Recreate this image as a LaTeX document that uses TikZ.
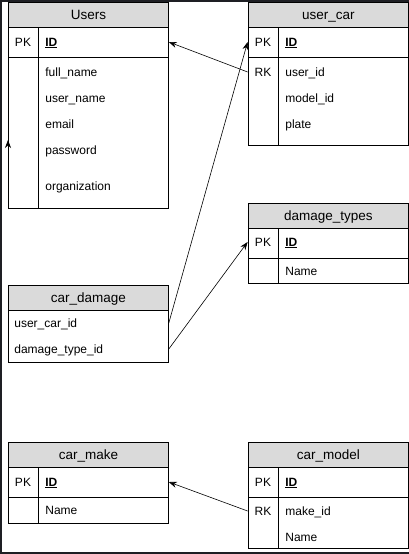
\documentclass[tikz,border=0pt]{standalone}
\usepackage{fontspec}
\setmainfont{Liberation Sans}
\usepackage{xcolor}
\usepackage{tikz}
\usetikzlibrary{arrows.meta}
\definecolor{headgray}{RGB}{218,218,218}
\definecolor{framedark}{RGB}{30,31,36}
\tikzset{
 head/.style={draw,fill=headgray,anchor=north west,minimum width=160pt,minimum height=25pt,inner sep=0pt,text height=11.5pt,text depth=2pt,font=\fontsize{13.5}{15}\selectfont},
 rowbox/.style={draw,anchor=north west,minimum width=160pt,inner sep=0pt},
 keycell/.style={minimum width=30pt,minimum height=26pt,inner sep=0pt,text height=10pt,text depth=2pt,font=\fontsize{12}{14}\selectfont},
 fieldcell/.style={anchor=west,minimum height=26pt,inner ysep=0pt,inner xsep=7pt,text width=116pt,align=left,text height=10pt,text depth=2pt,font=\fontsize{12}{14}\selectfont},
 widecell/.style={fieldcell,inner xsep=6pt,text width=148pt}
}
\begin{document}
\begin{tikzpicture}[x=1pt,y=-1pt,>={Stealth[length=8pt,width=6pt]},line width=0.8pt]
\useasboundingbox (0,0) rectangle (409,554);
\fill[framedark] (0,0) rectangle (409,554);
\fill[white] (2,1.5) rectangle (409,551.5);
% Users
\node[head] (users) at (8,2) {Users};
\node[rowbox,minimum height=30pt] (users-pkrow) at (8,27) {};
\node[rowbox,minimum height=151pt] (users-body) at (8,57) {};
\draw ([xshift=30pt]users-pkrow.north west) -- ([xshift=30pt]users-body.south west);
\node[keycell] (users-pk) at (23,42) {PK};
\node[fieldcell] (users-id) at (38,42) {\underline{\textbf{ID}}};
\node[fieldcell] (users-fname) at (38,72) {full\_name};
\node[fieldcell] (users-uname) at (38,98) {user\_name};
\node[fieldcell] (users-email) at (38,124) {email};
\node[fieldcell] (users-pass) at (38,150) {password};
\node[fieldcell] (users-org) at (38,186) {organization};
\coordinate (users-tip) at (8,140);
% user_car
\node[head] (ucar) at (248,2) {user\_car};
\node[rowbox,minimum height=30pt] (ucar-pkrow) at (248,27) {};
\node[rowbox,minimum height=88pt] (ucar-body) at (248,57) {};
\draw ([xshift=30pt]ucar-pkrow.north west) -- ([xshift=30pt]ucar-body.south west);
\node[keycell] (ucar-pk) at (263,42) {PK};
\node[fieldcell] (ucar-id) at (278,42) {\underline{\textbf{ID}}};
\node[keycell] (ucar-rk) at (263,72) {RK};
\node[fieldcell] (ucar-uid) at (278,72) {user\_id};
\node[fieldcell] (ucar-mid) at (278,98) {model\_id};
\node[fieldcell] (ucar-plate) at (278,124) {plate};
% damage_types
\node[head] (dtyp) at (248,203) {damage\_types};
\node[rowbox,minimum height=30pt] (dtyp-pkrow) at (248,228) {};
\node[rowbox,minimum height=25pt] (dtyp-body) at (248,258) {};
\draw ([xshift=30pt]dtyp-pkrow.north west) -- ([xshift=30pt]dtyp-body.south west);
\node[keycell] (dtyp-pk) at (263,242) {PK};
\node[fieldcell] (dtyp-id) at (278,242) {\underline{\textbf{ID}}};
\node[fieldcell] (dtyp-name) at (278,271) {Name};
% car_damage
\node[head] (cdmg) at (8,285) {car\_damage};
\node[rowbox,minimum height=52pt] (cdmg-body) at (8,310) {};
\node[widecell] (cdmg-ucid) at (8,323) {user\_car\_id};
\node[widecell] (cdmg-dtid) at (8,349) {damage\_type\_id};
% car_make
\node[head] (cmake) at (8,442) {car\_make};
\node[rowbox,minimum height=30pt] (cmake-pkrow) at (8,467) {};
\node[rowbox,minimum height=26pt] (cmake-body) at (8,497) {};
\draw ([xshift=30pt]cmake-pkrow.north west) -- ([xshift=30pt]cmake-body.south west);
\node[keycell] (cmake-pk) at (23,482) {PK};
\node[fieldcell] (cmake-id) at (38,482) {\underline{\textbf{ID}}};
\node[fieldcell] (cmake-name) at (38,510) {Name};
% car_model
\node[head] (cmod) at (248,442) {car\_model};
\node[rowbox,minimum height=30pt] (cmod-pkrow) at (248,467) {};
\node[rowbox,minimum height=51pt] (cmod-body) at (248,497) {};
\draw ([xshift=30pt]cmod-pkrow.north west) -- ([xshift=30pt]cmod-body.south west);
\node[keycell] (cmod-pk) at (263,482) {PK};
\node[fieldcell] (cmod-id) at (278,482) {\underline{\textbf{ID}}};
\node[keycell] (cmod-rk) at (263,511) {RK};
\node[fieldcell] (cmod-mkid) at (278,511) {make\_id};
\node[fieldcell] (cmod-name) at (278,537) {Name};
% links
\draw[->,line width=0.6pt] (ucar-rk.west) -- (users-id.east);
\draw[->,line width=0.6pt] (cdmg-ucid.east) -- (ucar-pk.west);
\draw[->,line width=0.6pt] (cdmg-dtid.east) -- (dtyp-pk.west);
\draw[->,line width=0.6pt] (cmod-rk.west) -- (cmake-id.east);
\draw[->,line width=0.6pt] (users-body.south west) -- (users-tip);
\end{tikzpicture}
\end{document}
